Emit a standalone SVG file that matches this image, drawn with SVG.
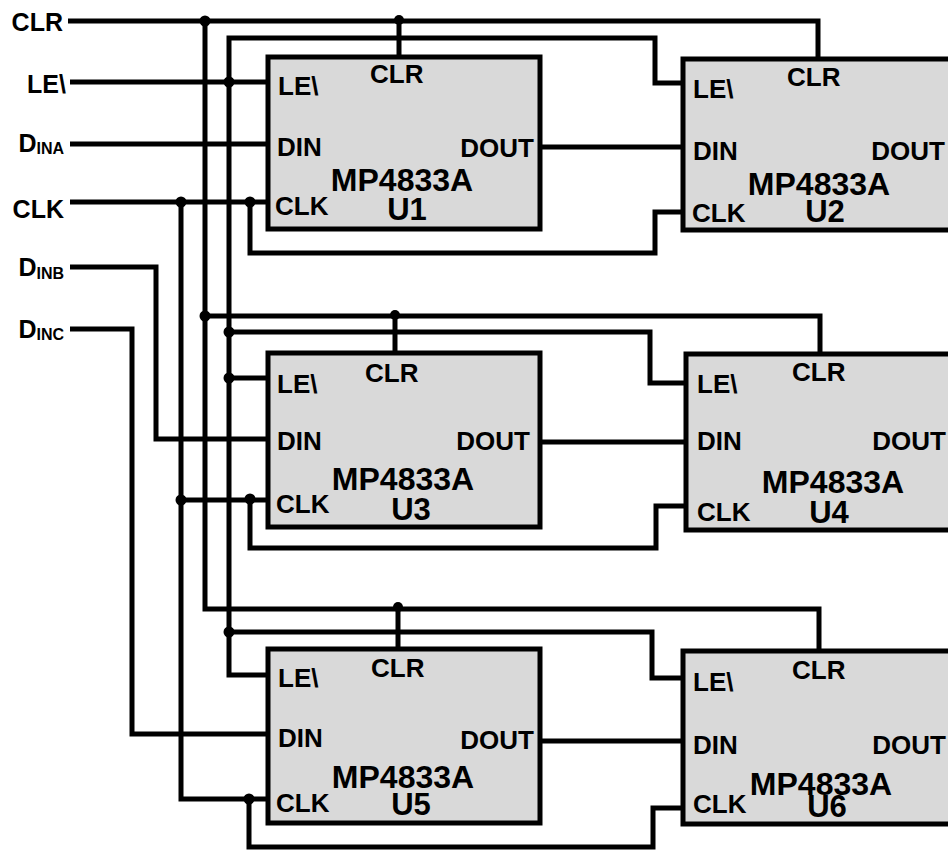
<svg xmlns="http://www.w3.org/2000/svg" width="948" height="851" viewBox="0 0 948 851">
<style>
.w{fill:none;stroke:#000;stroke-width:5;stroke-linejoin:miter;stroke-linecap:butt}
.box{fill:#d9d9d9;stroke:#000;stroke-width:5}
.t{font-family:"Liberation Sans",Arial,sans-serif;font-weight:bold;font-size:25px;fill:#000}
.p{font-size:26px}
.big{font-size:32px}
.u{font-size:31px}
.dot{fill:#000}
</style>
<rect width="948" height="851" fill="#fff"/>
<g id="connectors">
<path class="w" d="M68,21 H818 V59"/>
<path class="w" d="M399,21 V57"/>
<path class="w" d="M205,21 V609 H819 V650"/>
<path class="w" d="M205,316 H820 V354"/>
<path class="w" d="M395,316 V353"/>
<path class="w" d="M398,609 V649"/>
<path class="w" d="M70,82 H268"/>
<path class="w" d="M683,83 H655 V38 H229 V675 H267"/>
<path class="w" d="M229,378 H268"/>
<path class="w" d="M229,332 H650 V383 H686"/>
<path class="w" d="M229,632 H652 V678 H683"/>
<path class="w" d="M70,144 H268"/>
<path class="w" d="M540,147 H683"/>
<path class="w" d="M70,202 H268"/>
<path class="w" d="M250,202 V253 H655 V212 H683"/>
<path class="w" d="M181,202 V799 H267"/>
<path class="w" d="M181,500 H268"/>
<path class="w" d="M250,500 V548 H656 V506 H686"/>
<path class="w" d="M249,799 V847 H653 V808 H683"/>
<path class="w" d="M70,267 H156 V439 H268"/>
<path class="w" d="M70,329 H132 V734 H267"/>
<path class="w" d="M540,442 H686"/>
<path class="w" d="M540,741 H683"/>
<circle class="dot" cx="205" cy="21" r="5.5"/>
<circle class="dot" cx="399" cy="20" r="5"/>
<circle class="dot" cx="229" cy="82" r="5.5"/>
<circle class="dot" cx="181" cy="202" r="5.5"/>
<circle class="dot" cx="250" cy="202" r="5.5"/>
<circle class="dot" cx="205" cy="316" r="5.5"/>
<circle class="dot" cx="395" cy="315" r="5"/>
<circle class="dot" cx="229" cy="332" r="5.5"/>
<circle class="dot" cx="229" cy="378" r="5.5"/>
<circle class="dot" cx="181" cy="500" r="5.5"/>
<circle class="dot" cx="250" cy="499" r="5.5"/>
<circle class="dot" cx="398" cy="607" r="5"/>
<circle class="dot" cx="229" cy="632" r="5.5"/>
<circle class="dot" cx="249" cy="799" r="5.5"/>
</g>
<g id="inputs">
<text class="t" x="63" y="31" text-anchor="end">CLR</text>
<text class="t" x="66" y="93" text-anchor="end">LE\</text>
<text class="t" x="64" y="152" text-anchor="end">D<tspan font-size="16" dy="2.3">INA</tspan></text>
<text class="t" x="64" y="218" text-anchor="end">CLK</text>
<text class="t" x="64" y="276" text-anchor="end">D<tspan font-size="16" dy="3">INB</tspan></text>
<text class="t" x="64" y="338" text-anchor="end">D<tspan font-size="16" dy="2">INC</tspan></text>
</g>
<g id="U1">
<rect class="box" x="268" y="57" width="272" height="172"/>
<text class="t p" x="278" y="95">LE\</text>
<text class="t p" x="370" y="83">CLR</text>
<text class="t p" x="277" y="156">DIN</text>
<text class="t p" x="534" y="157" text-anchor="end">DOUT</text>
<text class="t big" x="402" y="191" text-anchor="middle">MP4833A</text>
<text class="t p" x="275" y="215">CLK</text>
<text class="t u" x="407" y="220" text-anchor="middle">U1</text>
</g>
<g id="U2">
<rect class="box" x="683" y="59" width="280" height="171"/>
<text class="t p" x="693" y="98">LE\</text>
<text class="t p" x="787" y="86">CLR</text>
<text class="t p" x="693" y="160">DIN</text>
<text class="t p" x="945" y="160" text-anchor="end">DOUT</text>
<text class="t big" x="819" y="195" text-anchor="middle">MP4833A</text>
<text class="t p" x="692" y="222">CLK</text>
<text class="t u" x="825" y="222" text-anchor="middle">U2</text>
</g>
<g id="U3">
<rect class="box" x="268" y="353" width="272" height="174"/>
<text class="t p" x="277" y="393">LE\</text>
<text class="t p" x="365" y="382">CLR</text>
<text class="t p" x="277" y="450">DIN</text>
<text class="t p" x="530" y="450" text-anchor="end">DOUT</text>
<text class="t big" x="403" y="490" text-anchor="middle">MP4833A</text>
<text class="t p" x="276" y="513">CLK</text>
<text class="t u" x="411" y="520" text-anchor="middle">U3</text>
</g>
<g id="U4">
<rect class="box" x="686" y="354" width="280" height="176"/>
<text class="t p" x="697" y="393">LE\</text>
<text class="t p" x="792" y="381">CLR</text>
<text class="t p" x="697" y="450">DIN</text>
<text class="t p" x="946" y="450" text-anchor="end">DOUT</text>
<text class="t big" x="833" y="493" text-anchor="middle">MP4833A</text>
<text class="t p" x="697" y="521">CLK</text>
<text class="t u" x="829" y="523" text-anchor="middle">U4</text>
</g>
<g id="U5">
<rect class="box" x="268" y="649" width="272" height="174"/>
<text class="t p" x="278" y="687">LE\</text>
<text class="t p" x="371" y="677">CLR</text>
<text class="t p" x="278" y="747">DIN</text>
<text class="t p" x="534" y="749" text-anchor="end">DOUT</text>
<text class="t big" x="403" y="788" text-anchor="middle">MP4833A</text>
<text class="t p" x="276" y="812">CLK</text>
<text class="t u" x="411" y="815" text-anchor="middle">U5</text>
</g>
<g id="U6">
<rect class="box" x="683" y="651" width="280" height="173"/>
<text class="t p" x="693" y="691">LE\</text>
<text class="t p" x="792" y="679">CLR</text>
<text class="t p" x="693" y="754">DIN</text>
<text class="t p" x="946" y="754" text-anchor="end">DOUT</text>
<text class="t big" x="821" y="795" text-anchor="middle">MP4833A</text>
<text class="t p" x="693" y="813">CLK</text>
<text class="t u" x="827" y="817" text-anchor="middle">U6</text>
</g>
</svg>
